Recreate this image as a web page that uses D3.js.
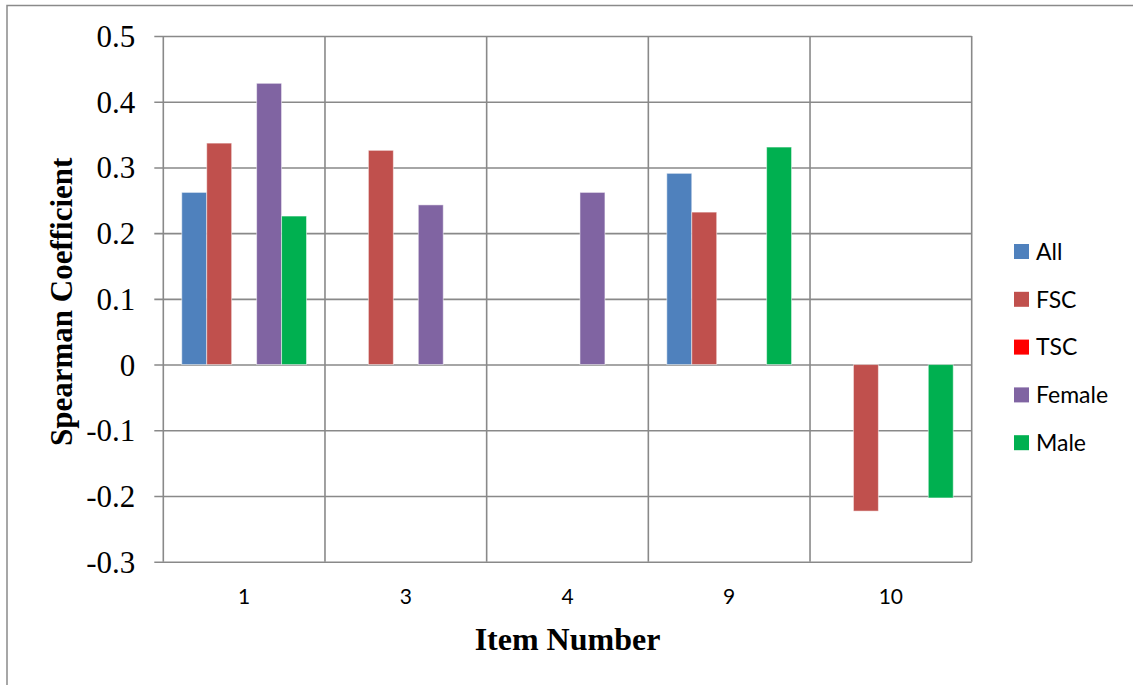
<!DOCTYPE html>
<html>
<head>
<meta charset="utf-8">
<script src="https://cdn.jsdelivr.net/npm/d3@7"></script>
<style>
  html, body { margin: 0; padding: 0; background: #fff; }
  svg { display: block; }
</style>
</head>
<body>
<svg id="chart" width="1133" height="685"></svg>
<script>
// Item numbers along the x axis
const items = ["1", "3", "4", "9", "10"];
// Series names (legend order)
const seriesNames = ["All", "FSC", "TSC", "Female", "Male"];
const seriesColors = ["#4F81BD", "#C0504D", "#FF0000", "#8064A2", "#00B050"];
// Spearman coefficients per item; null = no bar
const allValues    = [0.262, null, null, 0.291, null];
const fscValues    = [0.337, 0.326, null, 0.232, -0.223];
const tscValues    = [null, null, null, null, null];
const femaleValues = [0.428, 0.243, 0.262, null, null];
const maleValues   = [0.226, null, null, 0.331, -0.203];
const yTicks = [-0.3, -0.2, -0.1, 0, 0.1, 0.2, 0.3, 0.4, 0.5];

const seriesValues = [allValues, fscValues, tscValues, femaleValues, maleValues];

const svg = d3.select("#chart");
const plot = { left: 163.3, right: 971.7, top: 36, bottom: 561.7 };
const gridColor = "#898989";
const serif = "'Liberation Serif', 'Times New Roman', serif";
const sans = "Lato, 'Open Sans', sans-serif";

// Outer chart frame
svg.append("rect")
  .attr("x", 7).attr("y", 5.5)
  .attr("width", 1200).attr("height", 800)
  .attr("fill", "none").attr("stroke", "#8a8a8a").attr("stroke-width", 1.5);

const x = d3.scaleBand().domain(items).range([plot.left, plot.right]).paddingInner(0).paddingOuter(0);
const xInner = d3.scaleBand().domain(seriesNames).range([0, x.bandwidth()]).paddingInner(0).paddingOuter(0.74);
const y = d3.scaleLinear().domain([-0.3, 0.5]).range([plot.bottom, plot.top]);

// Horizontal gridlines with left tick marks
const yAxis = d3.axisLeft(y).tickValues(yTicks).tickSize(-(plot.right - plot.left)).tickSizeOuter(0)
  .tickFormat(d => d === 0 ? "0" : d3.format(".1f")(d).replace("\u2212", "-"));
const gy = svg.append("g").attr("transform", `translate(${plot.left},0)`).call(yAxis);
gy.select(".domain").remove();
gy.selectAll(".tick line").attr("stroke", gridColor).attr("stroke-width", 1.6)
  .attr("x1", -9);
gy.selectAll(".tick text")
  .attr("x", -28)
  .attr("dy", "0.34em")
  .attr("fill", "#000")
  .style("font-family", serif)
  .style("font-size", "31px");

// Vertical gridlines at category boundaries
const bounds = items.map(d => x(d)).concat([plot.right]);
svg.append("g").selectAll("line").data(bounds).join("line")
  .attr("x1", d => d).attr("x2", d => d)
  .attr("y1", plot.top).attr("y2", plot.bottom)
  .attr("stroke", gridColor).attr("stroke-width", 1.6);

// X axis labels
const xAxis = d3.axisBottom(x).tickSize(0);
const gx = svg.append("g").attr("transform", `translate(0,${plot.bottom})`).call(xAxis);
gx.select(".domain").remove();
gx.selectAll(".tick text")
  .attr("y", 35)
  .attr("dy", "0.36em")
  .attr("fill", "#000")
  .style("font-family", sans)
  .style("font-size", "21px");

// Bars
const barData = [];
seriesNames.forEach((s, si) => {
  items.forEach((it, ii) => {
    const v = seriesValues[si][ii];
    if (v !== null) barData.push({ series: s, item: it, value: v, color: seriesColors[si] });
  });
});
svg.append("g").selectAll("rect").data(barData).join("rect")
  .attr("x", d => x(d.item) + xInner(d.series))
  .attr("width", xInner.bandwidth())
  .attr("y", d => y(Math.max(0, d.value)))
  .attr("height", d => Math.abs(y(d.value) - y(0)))
  .attr("fill", d => d.color)
  .attr("stroke", "#fff").attr("stroke-opacity", 0.5).attr("stroke-width", 1);

// Axis titles
svg.append("text")
  .attr("transform", `translate(72,${(plot.top + plot.bottom) / 2 + 3}) rotate(-90)`)
  .attr("text-anchor", "middle")
  .style("font-family", serif)
  .style("font-weight", "bold").style("font-size", "31px")
  .text("Spearman Coefficient");

svg.append("text")
  .attr("x", (plot.left + plot.right) / 2)
  .attr("y", 650)
  .attr("text-anchor", "middle")
  .style("font-family", serif)
  .style("font-weight", "bold").style("font-size", "32px")
  .text("Item Number");

// Legend
const legend = svg.append("g").attr("transform", "translate(1014,244)");
const row = legend.selectAll("g").data(seriesNames).join("g")
  .attr("transform", (d, i) => `translate(0,${i * 47.8})`);
row.append("rect").attr("width", 15).attr("height", 15)
  .attr("fill", (d, i) => seriesColors[i]);
row.append("text").attr("x", 22).attr("y", 7.5).attr("dy", "0.36em")
  .style("font-family", sans)
  .style("font-size", "23px")
  .text(d => d);
</script>
</body>
</html>
